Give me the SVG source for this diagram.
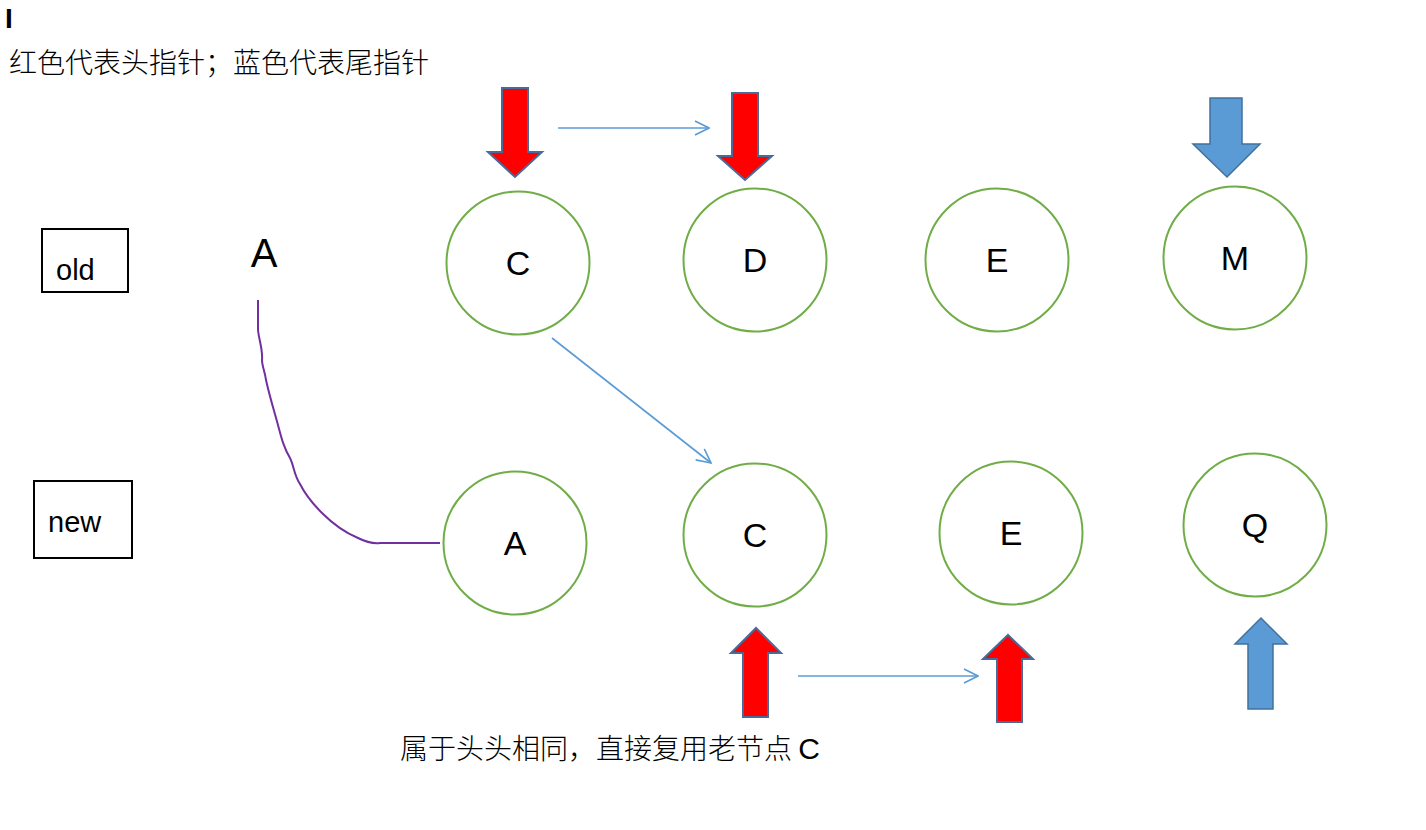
<svg xmlns="http://www.w3.org/2000/svg" width="1426" height="830" viewBox="0 0 1426 830">
<style>
.node{fill:#fff;stroke:#70AD47;stroke-width:2}
.lbl{font-family:"Liberation Sans",Arial,sans-serif;font-size:34px;fill:#000;text-anchor:middle}
.red{fill:#FF0000;stroke:#4A6A9A;stroke-width:2;stroke-linejoin:miter}
.blue{fill:#5B9BD5;stroke:#41719C;stroke-width:1.5}
.conn{fill:none;stroke:#5B9BD5;stroke-width:1.6}
.box{fill:#fff;stroke:#000;stroke-width:2}
.cjk{font-family:"Noto Sans CJK SC","Noto Sans CJK JP",sans-serif;font-size:28px;font-weight:300;fill:#000}
.sm{font-family:"Liberation Sans",Arial,sans-serif;font-size:29px;fill:#000}
</style>
<defs>
<marker id="open" viewBox="0 0 16 16" refX="15" refY="8" markerWidth="16" markerHeight="16" markerUnits="userSpaceOnUse" orient="auto">
<path d="M1,1 L15,8 L1,15" fill="none" stroke="#5B9BD5" stroke-width="1.6"/>
</marker>
</defs>
<rect width="1426" height="830" fill="#fff"/>
<text x="5" y="28" font-family="Liberation Sans,Arial,sans-serif" font-size="28" font-weight="bold">I</text>
<text class="cjk" x="9" y="73">红色代表头指针；蓝色代表尾指针</text>
<g id="old-box"><rect class="box" x="42" y="229" width="86" height="63"/><text class="sm" x="56" y="280">old</text></g>
<g id="new-box"><rect class="box" x="34" y="481" width="98" height="77"/><text class="sm" x="48" y="532">new</text></g>
<g id="label-A"><text x="264" y="267" font-family="Liberation Sans,Arial,sans-serif" font-size="40" text-anchor="middle">A</text></g>
<g id="old-C"><circle class="node" cx="518" cy="263" r="71.5"/><text class="lbl" x="518" y="275">C</text></g>
<g id="old-D"><circle class="node" cx="755" cy="260" r="71.5"/><text class="lbl" x="755" y="272">D</text></g>
<g id="old-E"><circle class="node" cx="997" cy="260" r="71.5"/><text class="lbl" x="997" y="272">E</text></g>
<g id="old-M"><circle class="node" cx="1235" cy="258" r="71.5"/><text class="lbl" x="1235" y="270">M</text></g>
<g id="new-A"><circle class="node" cx="515" cy="543" r="71.5"/><text class="lbl" x="515" y="555">A</text></g>
<g id="new-C"><circle class="node" cx="755" cy="535" r="71.5"/><text class="lbl" x="755" y="547">C</text></g>
<g id="new-E"><circle class="node" cx="1011" cy="533" r="71.5"/><text class="lbl" x="1011" y="545">E</text></g>
<g id="new-Q"><circle class="node" cx="1255" cy="525" r="71.5"/><text class="lbl" x="1255" y="537">Q</text></g>
<g id="pointers">
<polygon class="red" points="502,88 528,88 528,152 542,152 515,177 488,152 502,152"/>
<polygon class="red" points="732,93 758,93 758,156 772,156 745,180 718,156 732,156"/>
<polygon class="blue" points="1210,98 1242,98 1242,144 1260,144 1227,177 1193,144 1210,144"/>
<polygon class="red" points="743,717 768,717 768,653 781,653 756,628 731,653 743,653"/>
<polygon class="red" points="997,722 1022,722 1022,659 1033,659 1008,635 983,659 997,659"/>
<polygon class="blue" points="1248,709 1273,709 1273,644 1287,644 1261,618 1235,644 1248,644"/>
</g>
<g id="connectors">
<line class="conn" x1="558" y1="128" x2="709" y2="128" marker-end="url(#open)"/>
<line class="conn" x1="552" y1="338" x2="711" y2="463" marker-end="url(#open)"/>
<line class="conn" x1="798" y1="676" x2="978" y2="676" marker-end="url(#open)"/>
<path d="M258,300 L258,330 C259,340 263,350 262,360 C262,366 265,372 266,380 C270,398 274,410 278,425 C282,440 284,448 290,458 C294,466 294,475 300,484 C306,496 312,503 322,513 C332,523 346,533 358,538 C366,542 372,544 380,543 L440,543" fill="none" stroke="#7030A0" stroke-width="2"/>
</g>
<text class="cjk" x="400" y="759">属于头头相同，直接复用老节点 <tspan font-family="Liberation Sans,Arial,sans-serif" font-weight="normal" font-size="30">C</tspan></text>
</svg>
